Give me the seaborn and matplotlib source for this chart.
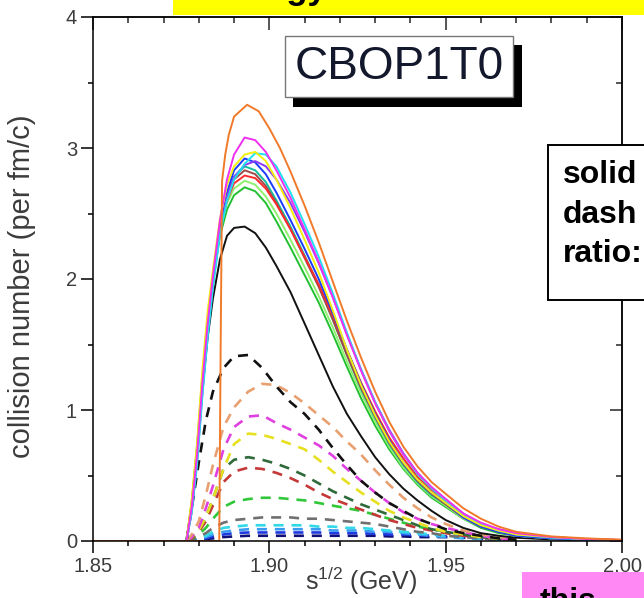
import matplotlib
matplotlib.use("Agg")
import matplotlib.pyplot as plt
from matplotlib.patches import Rectangle
from matplotlib.ticker import FixedLocator, MultipleLocator
import seaborn as sns

# ---------------------------------------------------------------------------
# data: collision number (per fm/c) versus sqrt(s) (GeV)
# ---------------------------------------------------------------------------
x_major = [1.85, 1.90, 1.95, 2.00]
x_labels = ["1.85", "1.90", "1.95", "2.00"]
y_major = [0, 1, 2, 3, 4]
y_labels = ["0", "1", "2", "3", "4"]

# energy grid for the solid (total) curves
s_solid = [1.850, 1.8765, 1.878, 1.8795, 1.881, 1.8825, 1.884, 1.886, 1.888, 1.890,
           1.893, 1.896, 1.899, 1.902, 1.906, 1.910, 1.914, 1.918, 1.922, 1.926,
           1.930, 1.934, 1.938, 1.942, 1.946, 1.950, 1.955, 1.960, 1.965, 1.970,
           1.980, 1.990, 2.000]

tot_yellow = [0, 0, 0.32, 0.74, 1.30, 1.75, 2.07, 2.46, 2.72, 2.86, 2.95, 2.97, 2.90, 2.76, 2.54, 2.30, 2.05,
              1.76, 1.46, 1.19, 0.96, 0.76, 0.60, 0.47, 0.37, 0.29, 0.19, 0.12, 0.08, 0.05, 0.03, 0.015, 0.008]
tot_magenta = [0, 0, 0.26, 0.66, 1.20, 1.66, 2.02, 2.45, 2.76, 2.95, 3.08, 3.06, 2.97, 2.83, 2.62, 2.38, 2.13,
               1.86, 1.57, 1.30, 1.05, 0.84, 0.66, 0.52, 0.41, 0.32, 0.21, 0.14, 0.09, 0.06, 0.03, 0.015, 0.008]
tot_violet = [0, 0, 0.22, 0.60, 1.12, 1.58, 1.95, 2.36, 2.63, 2.78, 2.87, 2.90, 2.86, 2.76, 2.58, 2.36, 2.12,
              1.86, 1.58, 1.31, 1.06, 0.85, 0.67, 0.52, 0.41, 0.32, 0.21, 0.13, 0.09, 0.06, 0.03, 0.015, 0.007]
tot_cyan = [0, 0, 0.22, 0.58, 1.10, 1.55, 1.93, 2.34, 2.60, 2.76, 2.88, 2.96, 2.95, 2.86, 2.66, 2.42, 2.17,
            1.89, 1.59, 1.31, 1.06, 0.84, 0.66, 0.51, 0.40, 0.31, 0.20, 0.13, 0.08, 0.05, 0.025, 0.012, 0.005]
tot_blue = [0, 0, 0.25, 0.64, 1.16, 1.60, 1.97, 2.38, 2.66, 2.83, 2.92, 2.89, 2.80, 2.66, 2.45, 2.23, 2.00,
            1.74, 1.46, 1.20, 0.97, 0.77, 0.60, 0.47, 0.37, 0.29, 0.18, 0.11, 0.07, 0.04, 0.02, 0.01, 0.004]
tot_teal = [0, 0, 0.27, 0.66, 1.18, 1.62, 1.98, 2.38, 2.63, 2.78, 2.86, 2.83, 2.74, 2.60, 2.40, 2.18, 1.95,
            1.69, 1.42, 1.16, 0.94, 0.74, 0.58, 0.45, 0.35, 0.28, 0.18, 0.11, 0.07, 0.04, 0.02, 0.01, 0.004]
tot_brown = [0, 0, 0.28, 0.68, 1.20, 1.63, 1.98, 2.37, 2.62, 2.76, 2.83, 2.80, 2.71, 2.58, 2.38, 2.16, 1.94,
             1.69, 1.42, 1.17, 0.95, 0.75, 0.59, 0.46, 0.36, 0.28, 0.18, 0.11, 0.07, 0.04, 0.02, 0.01, 0.004]
tot_red = [0, 0, 0.28, 0.68, 1.20, 1.64, 2.00, 2.38, 2.60, 2.73, 2.79, 2.77, 2.69, 2.57, 2.38, 2.17, 1.96,
           1.72, 1.46, 1.21, 0.99, 0.79, 0.63, 0.49, 0.39, 0.31, 0.20, 0.13, 0.08, 0.05, 0.025, 0.012, 0.005]
tot_green = [0, 0, 0.30, 0.72, 1.24, 1.66, 1.99, 2.33, 2.53, 2.64, 2.70, 2.67, 2.58, 2.44, 2.24, 2.03, 1.82,
             1.58, 1.33, 1.09, 0.88, 0.70, 0.55, 0.43, 0.33, 0.26, 0.17, 0.10, 0.06, 0.04, 0.02, 0.01, 0.004]
tot_lime = [0, 0, 0.30, 0.72, 1.26, 1.70, 2.03, 2.38, 2.58, 2.69, 2.75, 2.72, 2.63, 2.50, 2.30, 2.09, 1.87,
            1.63, 1.37, 1.13, 0.91, 0.72, 0.56, 0.44, 0.34, 0.27, 0.17, 0.11, 0.07, 0.04, 0.02, 0.01, 0.004]
tot_black = [0, 0, 0.27, 0.66, 1.15, 1.55, 1.85, 2.15, 2.33, 2.39, 2.40, 2.35, 2.24, 2.10, 1.90, 1.66, 1.42,
             1.18, 0.97, 0.80, 0.64, 0.51, 0.40, 0.31, 0.23, 0.16, 0.10, 0.06, 0.04, 0.025, 0.012, 0.006, 0.003]

# the orange curve has a later, sharp threshold
s_orange = [1.850, 1.8858, 1.8862, 1.8866, 1.8875, 1.8885, 1.890, 1.8937, 1.897, 1.900,
            1.903, 1.906, 1.910, 1.914, 1.918, 1.922, 1.926, 1.930, 1.934, 1.938,
            1.942, 1.946, 1.950, 1.955, 1.960, 1.965, 1.970, 1.980, 1.990, 2.000]
tot_orange = [0, 0, 1.50, 2.75, 2.95, 3.10, 3.24, 3.33, 3.28, 3.15, 3.00, 2.82, 2.56, 2.28, 1.98, 1.68,
              1.40, 1.14, 0.91, 0.72, 0.57, 0.45, 0.36, 0.25, 0.17, 0.11, 0.07, 0.035, 0.02, 0.01]

# energy grid for the dashed (partial) curves
s_dash = [1.8765, 1.878, 1.880, 1.882, 1.884, 1.887, 1.890, 1.894, 1.898, 1.902, 1.906, 1.910, 1.914,
          1.918, 1.922, 1.926, 1.930, 1.934, 1.938, 1.942, 1.946, 1.950, 1.955, 1.960, 1.965, 1.970]

part_black = [0, 0.25, 0.60, 0.92, 1.14, 1.32, 1.41, 1.42, 1.32, 1.18, 1.06, 0.97, 0.85,
              0.71, 0.58, 0.46, 0.37, 0.29, 0.23, 0.17, 0.13, 0.09, 0.06, 0.04, 0.02, 0.01]
part_orange = [0, 0.05, 0.15, 0.35, 0.58, 0.87, 1.02, 1.14, 1.20, 1.19, 1.13, 1.05, 0.96,
               0.87, 0.76, 0.66, 0.54, 0.43, 0.33, 0.25, 0.18, 0.13, 0.08, 0.05, 0.03, 0.02]
part_magenta = [0, 0.03, 0.10, 0.25, 0.42, 0.70, 0.87, 0.95, 0.96, 0.90, 0.85, 0.79, 0.73,
                0.65, 0.55, 0.46, 0.37, 0.29, 0.22, 0.17, 0.13, 0.10, 0.07, 0.04, 0.02, 0.01]
part_yellow = [0, 0.03, 0.08, 0.18, 0.32, 0.55, 0.74, 0.82, 0.81, 0.78, 0.74, 0.70, 0.62,
               0.53, 0.45, 0.37, 0.30, 0.23, 0.18, 0.14, 0.10, 0.07, 0.05, 0.03, 0.02, 0.01]
part_darkgreen = [0, 0.03, 0.08, 0.18, 0.32, 0.55, 0.62, 0.64, 0.62, 0.59, 0.55, 0.50, 0.44,
                  0.38, 0.33, 0.28, 0.24, 0.20, 0.16, 0.12, 0.09, 0.07, 0.05, 0.03, 0.02, 0.01]
part_red = [0, 0.02, 0.07, 0.15, 0.27, 0.45, 0.53, 0.56, 0.55, 0.52, 0.48, 0.43, 0.37,
            0.32, 0.28, 0.24, 0.20, 0.16, 0.13, 0.10, 0.08, 0.06, 0.04, 0.03, 0.02, 0.01]
part_green = [0, 0.02, 0.05, 0.10, 0.17, 0.26, 0.30, 0.32, 0.33, 0.33, 0.32, 0.31, 0.29,
              0.27, 0.25, 0.23, 0.20, 0.17, 0.14, 0.11, 0.09, 0.07, 0.05, 0.03, 0.02, 0.01]
part_grey = [0, 0.01, 0.03, 0.06, 0.10, 0.14, 0.16, 0.17, 0.18, 0.18, 0.18, 0.17, 0.17,
             0.16, 0.15, 0.14, 0.13, 0.11, 0.09, 0.07, 0.06, 0.04, 0.03, 0.02, 0.01, 0.005]
part_cyan = [0, 0.01, 0.02, 0.04, 0.07, 0.10, 0.11, 0.12, 0.12, 0.12, 0.12, 0.12, 0.11,
             0.11, 0.10, 0.10, 0.09, 0.08, 0.07, 0.06, 0.05, 0.04, 0.03, 0.02, 0.01, 0.005]
part_sky = [0, 0.01, 0.02, 0.03, 0.05, 0.07, 0.08, 0.09, 0.09, 0.09, 0.09, 0.09, 0.09,
            0.08, 0.08, 0.08, 0.07, 0.07, 0.06, 0.05, 0.04, 0.03, 0.02, 0.015, 0.01, 0.005]
part_blue = [0, 0.005, 0.01, 0.02, 0.035, 0.05, 0.06, 0.065, 0.065, 0.065, 0.065, 0.065, 0.065,
             0.06, 0.06, 0.06, 0.055, 0.05, 0.05, 0.045, 0.04, 0.035, 0.03, 0.02, 0.01, 0.005]
part_navy = [0, 0.005, 0.01, 0.015, 0.02, 0.03, 0.035, 0.04, 0.04, 0.04, 0.04, 0.04, 0.04,
             0.04, 0.04, 0.04, 0.04, 0.035, 0.035, 0.03, 0.03, 0.03, 0.025, 0.02, 0.01, 0.005]

# ---------------------------------------------------------------------------
# style
# ---------------------------------------------------------------------------
sns.set_style("ticks")
plt.rcParams["font.family"] = ["Liberation Sans", "DejaVu Sans"]
plt.rcParams["mathtext.fontset"] = "custom"
plt.rcParams["mathtext.rm"] = "Liberation Sans"
plt.rcParams["mathtext.it"] = "Liberation Sans"

W, H = 644, 598


def fx(px):
    return px / W


def fy(py):
    return 1 - py / H


fig = plt.figure(figsize=(W / 100, H / 100), dpi=100, facecolor="white")
ax = fig.add_axes([fx(93), fy(541), (622 - 93) / W, (541 - 17) / H])
ax.set_facecolor("white")

dashed = [
    (part_navy, "#10107a"), (part_blue, "#2038e0"), (part_sky, "#3a9cf0"),
    (part_cyan, "#30d8e8"), (part_grey, "#707070"), (part_green, "#30c838"),
    (part_red, "#c43838"), (part_darkgreen, "#2f6a3a"), (part_yellow, "#e6e020"),
    (part_magenta, "#e040e0"), (part_orange, "#e8a070"), (part_black, "#111111"),
]
for vals, col in dashed:
    sns.lineplot(x=s_dash, y=vals, ax=ax, color=col, linewidth=1.9,
                 linestyle=(0, (3.8, 3.0)), errorbar=None)

solid = [
    (tot_black, "#111111"), (tot_green, "#22c030"), (tot_lime, "#90f070"),
    (tot_teal, "#10c0a0"), (tot_brown, "#a04848"), (tot_red, "#ff2a2a"),
    (tot_blue, "#1a3cff"), (tot_violet, "#8a3cf0"), (tot_cyan, "#20e0f0"),
    (tot_yellow, "#f2ee10"), (tot_magenta, "#f030f0"),
]
for vals, col in solid:
    sns.lineplot(x=s_solid, y=vals, ax=ax, color=col, linewidth=1.4, errorbar=None)
sns.lineplot(x=s_orange, y=tot_orange, ax=ax, color="#f07a2a", linewidth=1.4, errorbar=None)

# ---------------------------------------------------------------------------
# axes
# ---------------------------------------------------------------------------
ax.set_xlim(1.85, 2.00)
ax.set_ylim(0, 4)
ax.xaxis.set_major_locator(FixedLocator(x_major))
ax.set_xticklabels(x_labels)
ax.xaxis.set_minor_locator(MultipleLocator(0.01))
ax.yaxis.set_major_locator(FixedLocator(y_major))
ax.set_yticklabels(y_labels)
ax.yaxis.set_minor_locator(MultipleLocator(0.5))
ax.set_xlabel("")
ax.set_ylabel("")
for sp in ax.spines.values():
    sp.set_linewidth(1.1)
    sp.set_color("black")
ax.tick_params(which="major", direction="out", length=8.5, width=1.1,
               labelsize=14.5, labelcolor="#3c3c3c", pad=3, color="black")
ax.tick_params(which="minor", direction="out", length=3.8, width=1.1, color="black")

top = ax.secondary_xaxis("top")
top.xaxis.set_major_locator(FixedLocator(x_major))
top.xaxis.set_minor_locator(MultipleLocator(0.01))
top.tick_params(which="major", direction="in", length=9, width=1.1, labeltop=False)
top.tick_params(which="minor", direction="in", length=4.5, width=1.1)
top.spines["top"].set_linewidth(1.1)

right = ax.secondary_yaxis("right")
right.yaxis.set_major_locator(FixedLocator(y_major))
right.yaxis.set_minor_locator(MultipleLocator(0.5))
right.tick_params(which="major", direction="in", length=9, width=1.1, labelright=False)
right.tick_params(which="minor", direction="in", length=4.5, width=1.1)
right.spines["right"].set_linewidth(1.1)

fig.text(fx(22), fy(286), "collision number (per fm/c)", rotation=90,
         ha="center", va="center", fontsize=21, color="#3c3c3c")
fig.text(fx(361), fy(590), r"$\mathregular{s^{1/2}}$ (GeV)", ha="center",
         va="baseline", fontsize=18, color="#3c3c3c")

# ---------------------------------------------------------------------------
# panel tag and slide annotations
# ---------------------------------------------------------------------------
fig.add_artist(Rectangle((fx(293), fy(107)), (522 - 293) / W, (107 - 45) / H,
                         transform=fig.transFigure, facecolor="black",
                         edgecolor="none", zorder=10))
fig.add_artist(Rectangle((fx(285), fy(97)), (513 - 285) / W, (97 - 36) / H,
                         transform=fig.transFigure, facecolor="white",
                         edgecolor="#777777", linewidth=1.0, zorder=11))
fig.text(fx(399), fy(67), "CBOP1T0", ha="center", va="center", fontsize=33,
         color="#14182c", zorder=12)

fig.add_artist(Rectangle((fx(173), fy(15)), (W - 173 + 5) / W, 20 / H,
                         transform=fig.transFigure, facecolor="#ffff00",
                         edgecolor="none", zorder=20))
fig.text(fx(327), fy(-1), "Energy", ha="right", va="baseline", fontsize=25,
         fontweight="bold", color="black", zorder=21)

fig.add_artist(Rectangle((fx(548), fy(300)), (W - 548 + 5) / W, (300 - 145) / H,
                         transform=fig.transFigure, facecolor="white",
                         edgecolor="black", linewidth=1.4, zorder=20))
for label, base in (("solid", 183), ("dash", 223), ("ratio:", 262)):
    fig.text(fx(563), fy(base), label, ha="left", va="baseline", fontsize=23,
             fontweight="bold", color="black", zorder=21)

fig.add_artist(Rectangle((fx(522), fy(605)), (W - 522 + 5) / W, (605 - 572) / H,
                         transform=fig.transFigure, facecolor="#ff88f4",
                         edgecolor="none", zorder=20))
fig.text(fx(540), fy(610), "this", ha="left", va="baseline", fontsize=23,
         fontweight="bold", color="black", zorder=21)

fig.savefig("out.png", dpi=100, facecolor="white")
